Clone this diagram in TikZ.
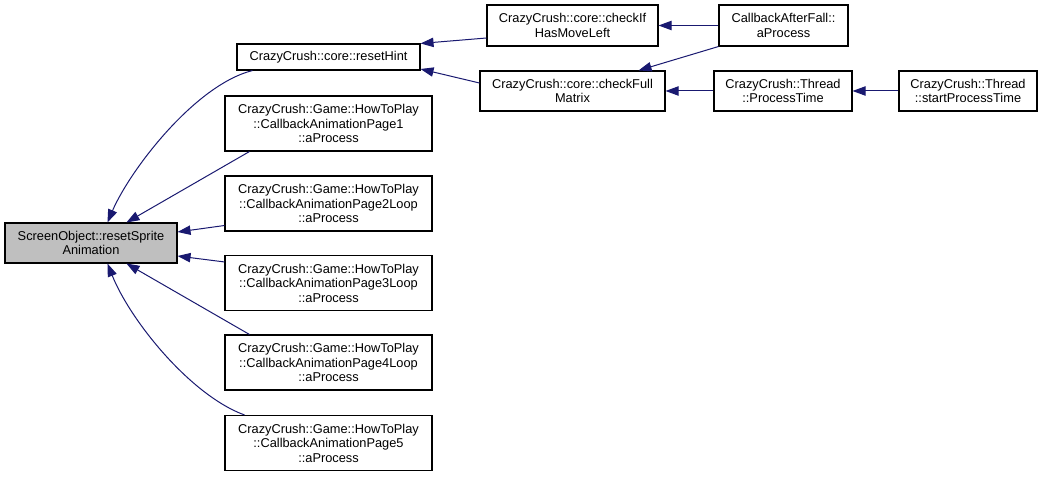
\documentclass[tikz,border=0pt]{standalone}
\usepackage{fontspec}
\setmainfont{Liberation Sans}
\usetikzlibrary{arrows.meta,calc}
\definecolor{edgec}{HTML}{191970}
\definecolor{hilite}{HTML}{BFBFBF}
\begin{document}
\begin{tikzpicture}[x=0.75pt,y=-0.75pt,
  box/.style={draw=black,line width=0.8pt,fill=white,inner sep=0pt,align=center,
    font=\fontsize{9.6}{10.9}\selectfont},
  edge/.style={draw=edgec,line width=0.75pt,-{Triangle[length=9.75pt,width=7pt]}}]
\useasboundingbox (0,0) rectangle (1043,477);
\node[box,fill=hilite,minimum width=129pt,minimum height=30pt] (screen) at (91,243) {ScreenObject::resetSprite\\Animation};
\node[box,minimum width=137.25pt,minimum height=19.5pt] (hint) at (328.5,57) {CrazyCrush::core::resetHint};
\node[box,minimum width=155.25pt,minimum height=41.25pt] (p1) at (328.5,123.5) {CrazyCrush::Game::HowToPlay\\::CallbackAnimationPage1\\::aProcess};
\node[box,minimum width=155.25pt,minimum height=41.25pt] (p2) at (328.5,203.5) {CrazyCrush::Game::HowToPlay\\::CallbackAnimationPage2Loop\\::aProcess};
\node[box,minimum width=155.25pt,minimum height=41.25pt] (p3) at (328.5,283) {CrazyCrush::Game::HowToPlay\\::CallbackAnimationPage3Loop\\::aProcess};
\node[box,minimum width=155.25pt,minimum height=41.25pt] (p4) at (328.5,362.5) {CrazyCrush::Game::HowToPlay\\::CallbackAnimationPage4Loop\\::aProcess};
\node[box,minimum width=155.25pt,minimum height=41.25pt] (p5) at (328.5,443) {CrazyCrush::Game::HowToPlay\\::CallbackAnimationPage5\\::aProcess};
\node[box,minimum width=128.25pt,minimum height=30.75pt] (checkif) at (572.5,25.5) {CrazyCrush::core::checkIf\\HasMoveLeft};
\node[box,minimum width=96.75pt,minimum height=30.75pt] (caf) at (783.5,25.5) {CallbackAfterFall::\\aProcess};
\node[box,minimum width=138.75pt,minimum height=30pt] (checkfull) at (572.5,91) {CrazyCrush::core::checkFull\\Matrix};
\node[box,minimum width=103.5pt,minimum height=30pt] (ptime) at (783,91) {CrazyCrush::Thread\\::ProcessTime};
\node[box,minimum width=103.5pt,minimum height=30pt] (sptime) at (968,91) {CrazyCrush::Thread\\::startProcessTime};

\draw[edge] ($(hint.south west)+(16,0)$) .. controls (195,85) and (130,170) .. ($(screen.north west)+(103,0)$);
\draw[edge] ($(p1.south west)+(25,0)$) -- ($(screen.north west)+(122,0)$);
\draw[edge] ($(p2.west)+(0,22)$) -- ($(screen.east)+(0,-11)$);
\draw[edge] ($(p3.north west)+(0,7)$) -- ($(screen.east)+(0,13)$);
\draw[edge] ($(p4.north west)+(25,0)$) -- ($(screen.south west)+(122,0)$);
\draw[edge] ($(p5.north west)+(20,0)$) .. controls (190,395) and (130,320) .. ($(screen.south west)+(103,0)$);
\draw[edge] ($(checkif.west)+(0,12.5)$) -- (hint.north east);
\draw[edge] ($(checkfull.west)+(0,-8)$) -- ($(hint.east)+(0,12)$);
\draw[edge] (caf.west) -- (checkif.east);
\draw[edge] (caf.south west) -- ($(checkfull.north east)+(-27,0)$);
\draw[edge] (ptime.west) -- (checkfull.east);
\draw[edge] (sptime.west) -- (ptime.east);
\end{tikzpicture}
\end{document}
